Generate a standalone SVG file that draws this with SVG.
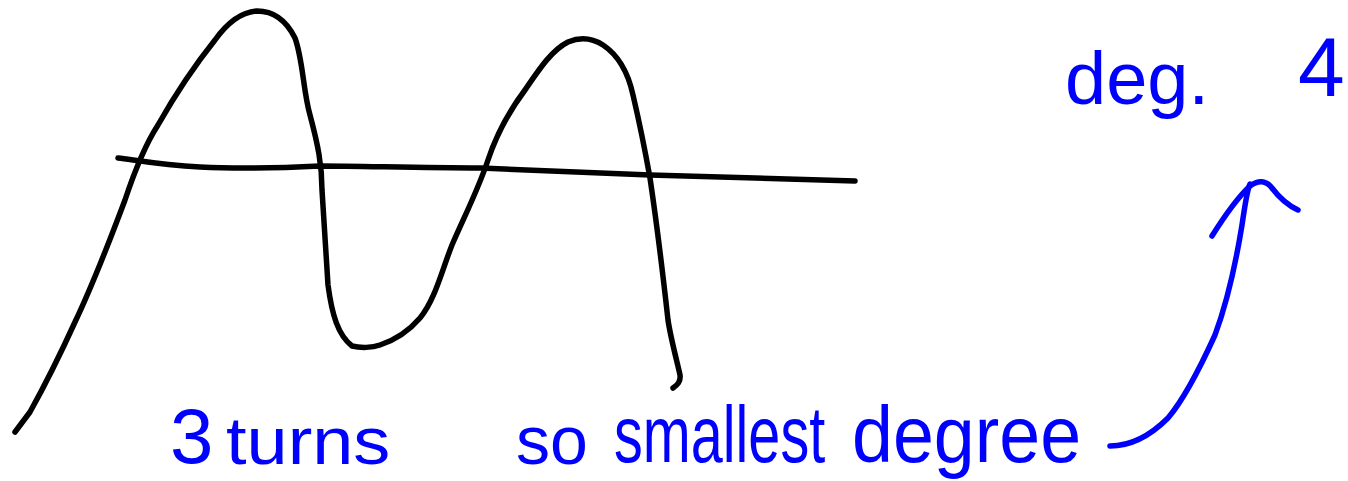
<svg xmlns="http://www.w3.org/2000/svg" width="1348" height="481" viewBox="0 0 1348 481">
<style>
.ink{fill:none;stroke:#000;stroke-width:5.5;stroke-linecap:round;stroke-linejoin:round}
.blue{fill:none;stroke:#0000ff;stroke-width:5.5;stroke-linecap:round;stroke-linejoin:round}
.t{font-family:"Liberation Sans","DejaVu Sans",sans-serif;fill:#0000ff}
</style>
<rect width="1348" height="481" fill="#fff"/>
<g id="curve">
<path class="ink" d="M15,432 L30,412 C45,385 60,355 75,322 C95,280 110,240 125,200 C135,170 145,145 158,125 C175,95 195,65 215,40 C228,22 242,12 257,11 C272,11 285,18 295,38 C303,60 303,90 310,115 C318,145 322,165 322,190 C324,225 326,255 328,285 C332,315 338,335 352,346 C360,348 372,348 380,345 C395,340 408,332 420,318 C435,300 442,270 452,245 C465,215 478,190 488,160 C498,130 510,110 525,90 C540,68 552,50 568,42 C580,37 592,38 603,45 C618,55 628,72 633,95 C640,125 645,150 650,178 C657,225 663,275 668,320 C671,340 678,365 680,375 C681,382 677,385 673,388"/>
</g>
<g id="axis">
<path class="ink" d="M118,158 C135,160 160,165 200,167 C240,169 280,168 320,166 C360,166 420,168 480,168 C540,170 600,173 650,175 C720,177 790,179 855,181"/>
</g>
<g id="connectors">
<path class="blue" d="M1110,446 C1130,446 1150,436 1168,418 C1185,398 1200,368 1215,335 C1228,300 1236,262 1242,225 C1245,205 1247,190 1250,184"/>
<path class="blue" d="M1212,236 C1222,220 1235,200 1250,186 C1258,180 1266,180 1272,188 C1278,196 1285,204 1298,210"/>
</g>
<g id="label-deg">
<text class="t" x="1065" y="104" font-size="74">deg.</text>
<text class="t" x="1298" y="96" font-size="84">4</text>
</g>
<g id="label-turns">
<text class="t" x="170" y="463" font-size="78">3</text>
<text class="t" transform="translate(226,464) scale(1.12,1)" font-size="66">turns</text>
</g>
<g id="label-smallest">
<text class="t" x="516" y="464" font-size="68">so</text>
<text class="t" transform="translate(614,462) scale(0.72,1)" font-size="80">smallest</text>
<text class="t" transform="translate(852,462) scale(0.92,1)" font-size="80">degree</text>
</g>
</svg>
